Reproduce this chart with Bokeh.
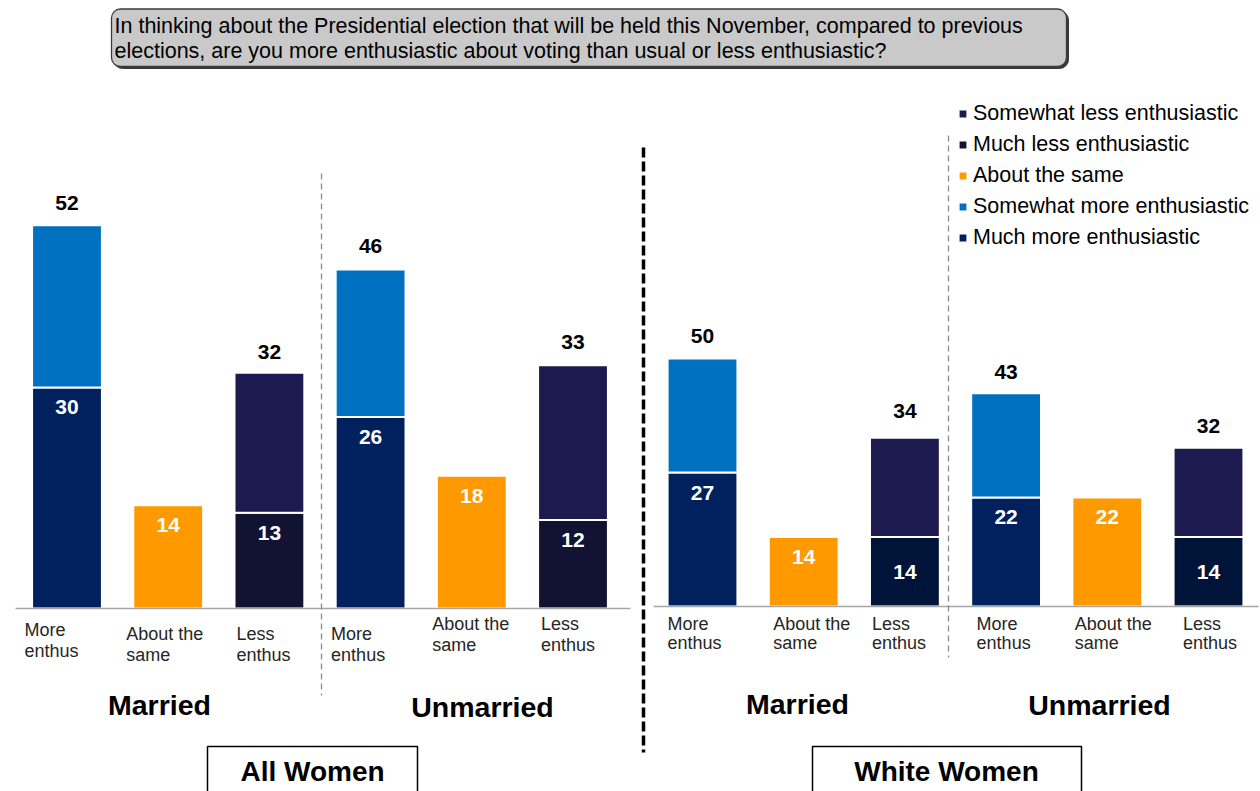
from bokeh.plotting import figure
from bokeh.models import Range1d, ColumnDataSource, Legend, LegendItem, BoxAnnotation, Label
from bokeh.core.properties import value
from bokeh.embed import file_html
from bokeh.resources import INLINE

# ---------------- data ----------------
question_lines = [
    "In thinking about the Presidential election that will be held this November, compared to previous",
    "elections, are you more enthusiastic about voting than usual or less enthusiastic?",
]
panels = ["All Women", "White Women"]
groups = ["Married", "Unmarried"]
categories = ["More\nenthus", "About the\nsame", "Less\nenthus"]
# order: All-Married, All-Unmarried, White-Married, White-Unmarried
much_more = [30, 26, 27, 22]
somewhat_more = [22, 20, 23, 21]
about_same = [14, 18, 14, 22]
much_less = [13, 12, 14, 14]
somewhat_less = [19, 21, 20, 18]
series_names = ["Somewhat less enthusiastic", "Much less enthusiastic", "About the same",
                "Somewhat more enthusiastic", "Much more enthusiastic"]

# ---------------- style / layout ----------------
C_MUCH_MORE = "#01205E"
C_SOME_MORE = "#0070C0"
C_SAME = "#FE9A00"
C_SOME_LESS = "#1C1A4E"
C_MUCH_LESS = ["#121232", "#00143A"]
FONT = "Liberation Sans"

W, H = 1260, 791
X0_REF, SLOT = 66.5, 101.2
BASE_L, SC_L = 608, 7.37
BASE_R, SC_R = 606, 4.96
BAR_W = 0.69
PANEL_START = [0.0, (702 - X0_REF) / SLOT]
YNAME = ["default", "right"]


def dx(rx):
    return (rx - X0_REF) / SLOT


def dyl(ry):
    return (BASE_L - ry) / SC_L


def dyr(ry):
    return (BASE_R - ry) / SC_R


p = figure(width=W, height=H, output_backend="svg", toolbar_location=None,
           x_axis_type=None, y_axis_type=None,
           x_range=Range1d(dx(0), dx(W)), y_range=Range1d(dyl(H), dyl(0)),
           min_border=0, outline_line_color=None)
p.extra_y_ranges = {"right": Range1d(dyr(H), dyr(0))}
p.grid.visible = False
p.background_fill_color = "white"

# label layout (pixel offsets of category labels from bar centre / baseline)
cat_dx = [[-42.5, -42, -33, -39.5, -39.5, -32], [-35, -30.5, -33, -29.5, -32.5, -25.5]]
cat_dy = [[11, 15, 15, 15, 5, 5], [7, 7, 7, 7, 7, 7]]
cat_lh = [1.09, 0.99]
total_dy = [[-22, -21, -23, -23], [-23, -27, -21, -22]]
NUM_FS = "21px"

legend_r = {}
for k in range(2):
    yn = YNAME[k]
    xs_more, xs_same, xs_less = [], [], []
    mm, sm, sa, ml, sl = [], [], [], [], []
    for j in range(2):
        g = 2 * k + j
        base = PANEL_START[k] + 3 * j
        xs_more.append(base)
        xs_same.append(base + 1)
        xs_less.append(base + 2)
        mm.append(much_more[g]); sm.append(somewhat_more[g]); sa.append(about_same[g])
        ml.append(much_less[g]); sl.append(somewhat_less[g])
    more_tot = [a + b for a, b in zip(mm, sm)]
    less_tot = [a + b for a, b in zip(ml, sl)]
    src_more = ColumnDataSource(dict(x=xs_more, mm=mm, tot=more_tot, zero=[0, 0]))
    src_same = ColumnDataSource(dict(x=xs_same, sa=sa, zero=[0, 0]))
    src_less = ColumnDataSource(dict(x=xs_less, ml=ml, tot=less_tot, zero=[0, 0]))

    kw = dict(width=BAR_W, line_color="white", line_width=2, y_range_name=yn)
    r_mm = p.vbar(x="x", bottom="zero", top="mm", source=src_more, fill_color=C_MUCH_MORE, **kw)
    r_sm = p.vbar(x="x", bottom="mm", top="tot", source=src_more, fill_color=C_SOME_MORE, **kw)
    r_sa = p.vbar(x="x", bottom="zero", top="sa", source=src_same, fill_color=C_SAME, **kw)
    r_ml = p.vbar(x="x", bottom="zero", top="ml", source=src_less, fill_color=C_MUCH_LESS[k], **kw)
    r_sl = p.vbar(x="x", bottom="ml", top="tot", source=src_less, fill_color=C_SOME_LESS, **kw)
    if k == 0:
        legend_r = {"Somewhat less enthusiastic": r_sl, "Much less enthusiastic": r_ml,
                    "About the same": r_sa, "Somewhat more enthusiastic": r_sm,
                    "Much more enthusiastic": r_mm}

    # totals above bars
    tot_src = ColumnDataSource(dict(
        x=xs_more + xs_less, y=more_tot + less_tot,
        t=[str(v) for v in more_tot + less_tot],
        off=[total_dy[k][0], total_dy[k][2], total_dy[k][1], total_dy[k][3]]))
    p.text(x="x", y="y", text="t", source=tot_src, y_offset="off", y_range_name=yn,
           text_font=value(FONT), text_font_style="bold", text_font_size=NUM_FS,
           text_color="black", text_align="center", text_baseline="middle")

    # inner white labels
    in_x = xs_more + xs_same
    in_y = mm + sa
    in_off = [20, 20, 20, 20]
    if k == 0:
        in_x += xs_less
        in_y += ml
        in_off += [20, 20]
        lbl_src = ColumnDataSource(dict(x=in_x, y=in_y, t=[str(v) for v in in_y], off=in_off))
        p.text(x="x", y="y", text="t", source=lbl_src, y_offset="off", y_range_name=yn,
               text_font=value(FONT), text_font_style="bold", text_font_size=NUM_FS,
               text_color="white", text_align="center", text_baseline="middle")
    else:
        lbl_src = ColumnDataSource(dict(x=in_x, y=in_y, t=[str(v) for v in in_y], off=in_off))
        p.text(x="x", y="y", text="t", source=lbl_src, y_offset="off", y_range_name=yn,
               text_font=value(FONT), text_font_style="bold", text_font_size=NUM_FS,
               text_color="white", text_align="center", text_baseline="middle")
        mid_src = ColumnDataSource(dict(x=xs_less, y=[v / 2 for v in ml], t=[str(v) for v in ml]))
        p.text(x="x", y="y", text="t", source=mid_src, y_range_name=yn,
               text_font=value(FONT), text_font_style="bold", text_font_size=NUM_FS,
               text_color="white", text_align="center", text_baseline="middle")

    # category labels
    cx, ct = [], []
    for j in range(2):
        for c in range(3):
            cx.append(PANEL_START[k] + 3 * j + c)
            ct.append(categories[c])
    cat_src = ColumnDataSource(dict(x=cx, y=[0] * 6, t=ct, xo=cat_dx[k], yo=cat_dy[k]))
    p.text(x="x", y="y", text="t", source=cat_src, x_offset="xo", y_offset="yo",
           y_range_name=yn, text_font=value(FONT), text_font_size="18px",
           text_color="#262626", text_align="left", text_baseline="top",
           text_line_height=cat_lh[k])

# baselines
p.segment(x0=[dx(15)], y0=[0], x1=[dx(630)], y1=[0], line_color="#A6A6A6", line_width=1.5)
p.segment(x0=[dx(653)], y0=[0], x1=[dx(1258)], y1=[0], line_color="#A6A6A6", line_width=1.5,
          y_range_name="right")

# separators
p.segment(x0=[dx(321), dx(948)], y0=[dyl(173), dyl(135)], x1=[dx(321), dx(948)],
          y1=[dyl(695), dyl(657)], line_color="#8C8C8C", line_width=1.3, line_dash="6 4")
p.segment(x0=[dx(643)], y0=[dyl(147)], x1=[dx(643)], y1=[dyl(752)],
          line_color="black", line_width=3.5, line_dash="10 4")

# group labels
for (gx, gy, gt) in [(159, 704, groups[0]), (482, 706, groups[1]),
                     (797, 703, groups[0]), (1099, 704, groups[1])]:
    p.add_layout(Label(x=dx(gx), y=dyl(gy), text=gt, text_font=FONT, text_font_style="bold",
                       text_font_size="28.5px", text_color="black", text_align="center",
                       text_baseline="middle"))

# panel boxes
for (l, r, cxp, t) in [(207, 417, 312, panels[0]), (812, 1081, 946, panels[1])]:
    p.add_layout(BoxAnnotation(left=dx(l), right=dx(r), top=dyl(746), bottom=dyl(830),
                               fill_color="white", fill_alpha=1, line_color="black",
                               line_width=1.5, line_alpha=1))
    p.add_layout(Label(x=dx(cxp), y=dyl(771), text=t, text_font=FONT, text_font_style="bold",
                       text_font_size="28px", text_color="black", text_align="center",
                       text_baseline="middle"))

# question box
p.add_layout(BoxAnnotation(left=dx(113), right=dx(1068), top=dyl(10.5), bottom=dyl(68),
                           fill_color="#3A3A3A", fill_alpha=1, line_color="#3A3A3A",
                           line_alpha=1, border_radius=9))
p.add_layout(BoxAnnotation(left=dx(111), right=dx(1066), top=dyl(8.5), bottom=dyl(66),
                           fill_color="#C9C9C9", fill_alpha=1, line_color="#3A3A3A",
                           line_width=1.3, line_alpha=1, border_radius=9))
for i, ly in enumerate([25, 50]):
    p.add_layout(Label(x=dx(114), y=dyl(ly), text=question_lines[i], text_font=FONT,
                       text_font_size="21.5px", text_color="black", text_align="left",
                       text_baseline="middle"))

# legend
legend = Legend(items=[LegendItem(label=n, renderers=[legend_r[n]]) for n in series_names],
                location=(957, H - 103 - 147), orientation="vertical",
                glyph_width=11, glyph_height=11, label_standoff=5, label_height=20,
                spacing=6, padding=0, margin=0,
                label_text_font=FONT, label_text_font_size="21.5px", label_text_color="black",
                border_line_alpha=0, background_fill_alpha=0)
p.add_layout(legend)

open("out.html", "w").write(file_html(p, INLINE))
